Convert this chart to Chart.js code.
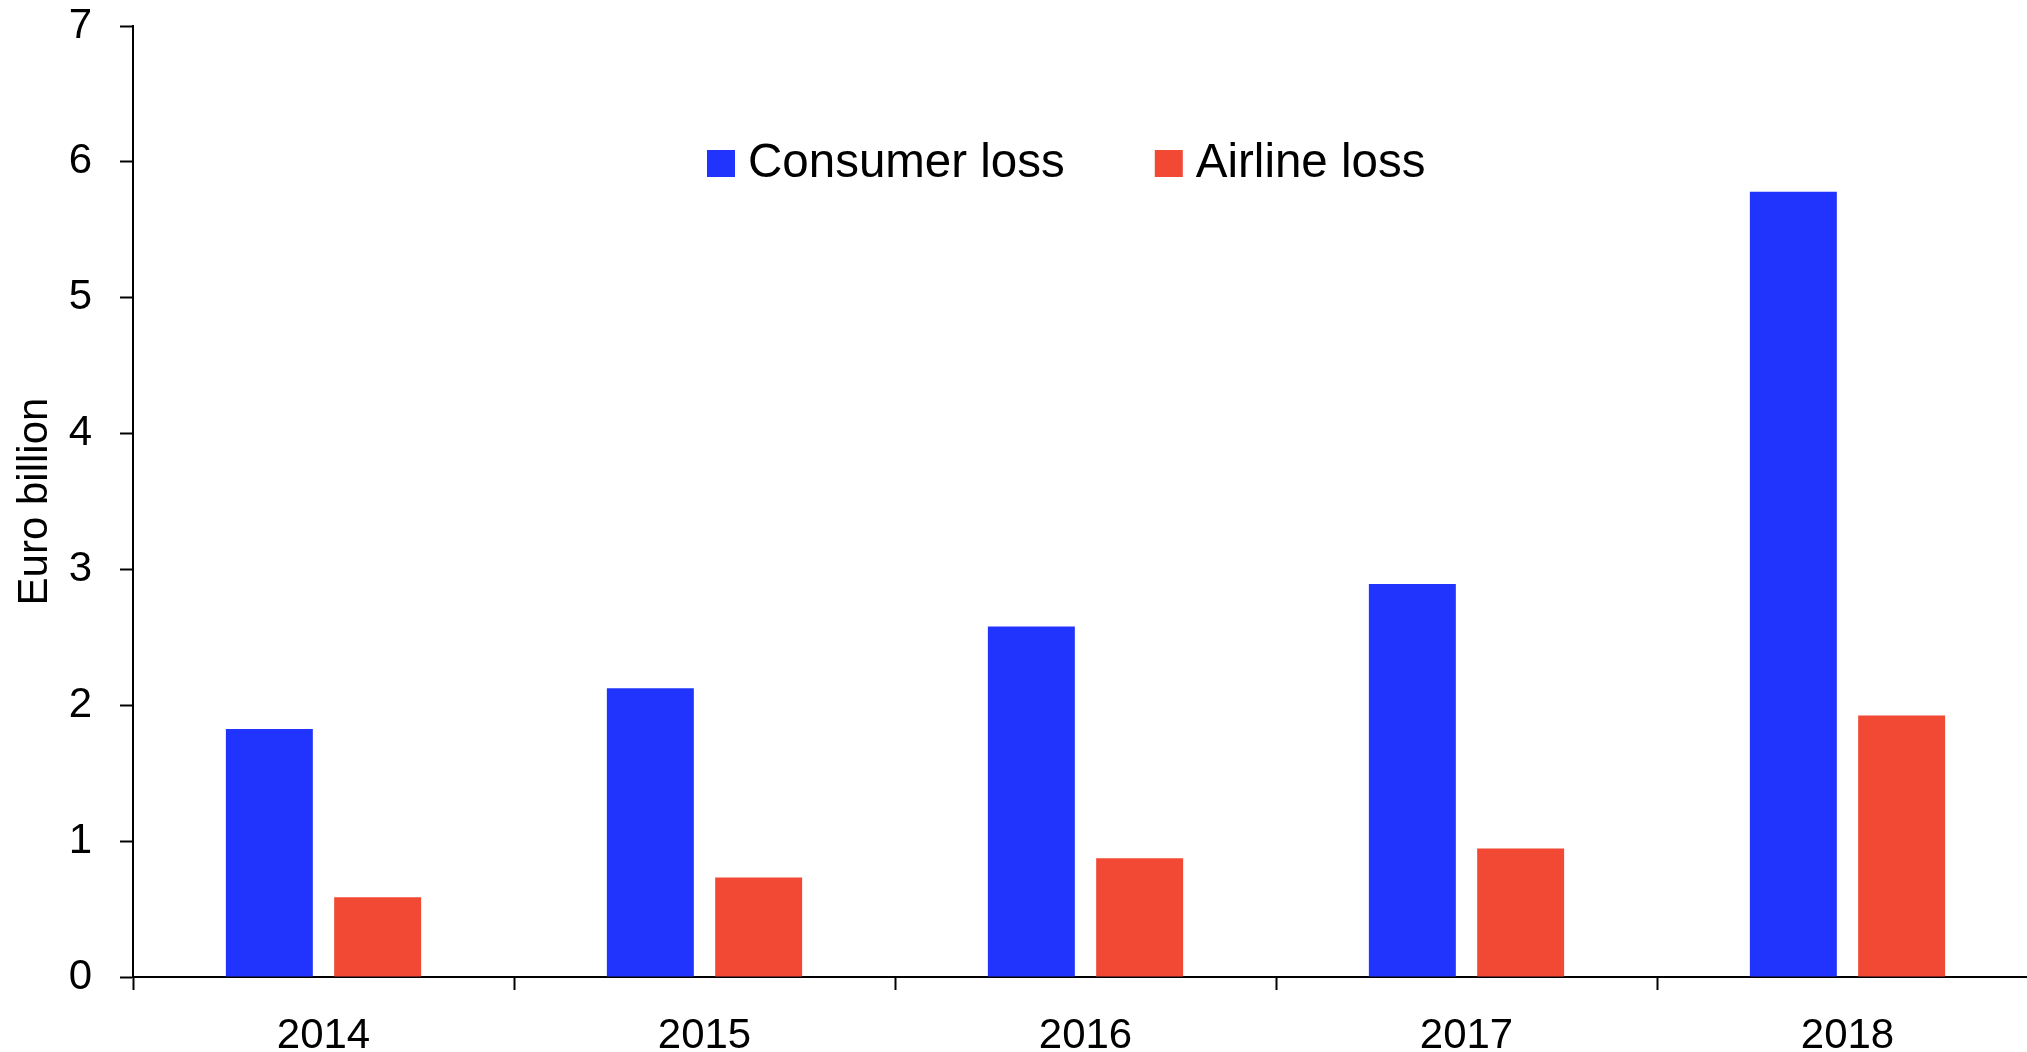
<!DOCTYPE html>
<html>
<head>
<meta charset="utf-8">
<script src="https://cdn.jsdelivr.net/npm/chart.js@4/dist/chart.umd.min.js"></script>
<style>
  html, body { margin: 0; padding: 0; background: #fff; overflow: hidden; }
  #wrap { position: absolute; left: 0; top: 0; width: 2038px; height: 1052px; }
</style>
</head>
<body>
<div id="wrap"><canvas id="c"></canvas></div>
<script>
const categories = ['2014', '2015', '2016', '2017', '2018'];
const consumerLoss = [1.825, 2.125, 2.58, 2.893, 5.78];
const airlineLoss = [0.587, 0.732, 0.874, 0.945, 1.924];
const seriesNames = ['Consumer loss', 'Airline loss'];
const yMin = 0, yMax = 7, yStep = 1;
const yTitle = 'Euro billion';

const FONT = "'Liberation Sans', Arial, Helvetica, sans-serif";
Chart.defaults.font.family = FONT;
Chart.defaults.color = '#000';

const insideLegend = {
  id: 'insideLegend',
  afterDraw(chart) {
    const ctx = chart.ctx;
    ctx.save();
    ctx.font = '47.5px ' + FONT;
    ctx.textBaseline = 'alphabetic';
    ctx.textAlign = 'left';
    let x = 707;
    const boxTop = 150, box = 27, baseY = 177;
    chart.data.datasets.forEach((ds, i) => {
      ctx.fillStyle = ds.backgroundColor;
      ctx.fillRect(x, boxTop, 28, box);
      x += 28 + 13;
      ctx.fillStyle = '#000';
      ctx.fillText(ds.label, x, baseY);
      x += ctx.measureText(ds.label).width + 90;
    });
    ctx.restore();
  }
};

new Chart(document.getElementById('c'), {
  type: 'bar',
  data: {
    labels: categories,
    datasets: [
      { label: seriesNames[0], data: consumerLoss, backgroundColor: '#2134fe',
        categoryPercentage: 0.5685, barPercentage: 0.803 },
      { label: seriesNames[1], data: airlineLoss, backgroundColor: '#f14934',
        categoryPercentage: 0.5685, barPercentage: 0.803 }
    ]
  },
  options: {
    responsive: true,
    maintainAspectRatio: false,
    animation: false,
    layout: { padding: { top: 26, left: 0, right: 0, bottom: 0 } },
    plugins: {
      legend: { display: false },
      tooltip: { enabled: false },
      title: { display: false }
    },
    scales: {
      x: {
        grid: { drawOnChartArea: false, drawTicks: true, tickLength: 13, tickColor: '#000', tickWidth: 2, offset: true },
        border: { display: true, color: '#000', width: 2 },
        ticks: { font: { size: 42 }, color: '#000', padding: 21, maxRotation: 0 },
        afterFit(scale) { scale.height = 75; scale.paddingLeft = 0; scale.paddingRight = 0; }
      },
      y: {
        min: yMin, max: yMax,
        grid: { drawOnChartArea: false, drawTicks: true, tickLength: 13, tickColor: '#000', tickWidth: 2 },
        border: { display: true, color: '#000', width: 2 },
        ticks: { stepSize: yStep, font: { size: 42, lineHeight: 1.22 }, color: '#000', padding: 28 },
        title: { display: true, text: yTitle, font: { size: 42 }, color: '#000', padding: { top: 10, bottom: 0 } },
        afterFit(scale) { scale.width = 133; scale.paddingTop = 0; scale.paddingBottom = 0; }
      }
    }
  },
  plugins: [insideLegend]
});
</script>
</body>
</html>
